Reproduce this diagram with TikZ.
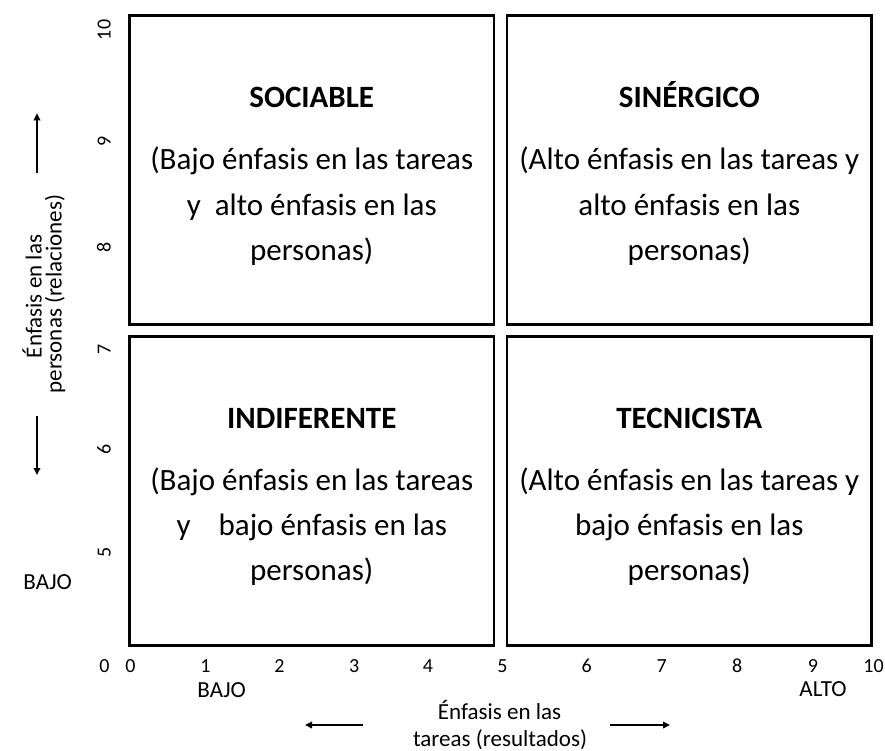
\documentclass[tikz,border=0pt]{standalone}
\usepackage{fontspec}
\setmainfont{Carlito}
\usetikzlibrary{arrows.meta}
\begin{document}
\begin{tikzpicture}[x=1pt,y=-1pt,
  quad/.style={draw, line width=2.7pt, inner sep=0pt, outer sep=0pt,
    minimum width=364.5pt, minimum height=309.2pt},
  ttl/.style={anchor=base, inner sep=0pt, font=\fontsize{31}{37}\selectfont\bfseries},
  txt/.style={anchor=base, inner sep=0pt, font=\fontsize{31}{37}\selectfont},
  lab/.style={anchor=base, inner sep=0pt, font=\fontsize{23}{28}\selectfont},
  num/.style={anchor=base, inner sep=0pt, font=\fontsize{20}{24}\selectfont},
  numr/.style={num, rotate=90},
  arr/.style={-{Triangle[length=7pt,width=6.5pt]}, line width=1.9pt}
]
\useasboundingbox (0,0) rectangle (885,751);

% quadrants
\node[quad] (tl) at (311.75,170.1) {};
\node[quad] (tr) at (689.3,170.1) {};
\node[quad] (bl) at (311.75,491.0) {};
\node[quad] (br) at (689.3,491.0) {};

% top-left
\node[ttl] (tlT) at (311.75,108) {SOCIABLE};
\node[txt] (tl1) at (311.75,170) {(Bajo énfasis en las tareas};
\node[txt] (tl2) at (311.75,215) {y~~alto énfasis en las};
\node[txt] (tl3) at (311.75,260) {personas)};

% top-right
\node[ttl] (trT) at (689.3,108) {SINÉRGICO};
\node[txt] (tr1) at (689.3,170) {(Alto énfasis en las tareas y};
\node[txt] (tr2) at (689.3,215) {alto énfasis en las};
\node[txt] (tr3) at (689.3,260) {personas)};

% bottom-left
\node[ttl] (blT) at (311.75,428.8) {INDIFERENTE};
\node[txt] (bl1) at (311.75,490.8) {(Bajo énfasis en las tareas};
\node[txt] (bl2) at (311.75,535.8) {y~~~~bajo énfasis en las};
\node[txt] (bl3) at (311.75,580.8) {personas)};

% bottom-right
\node[ttl] (brT) at (689.3,428.8) {TECNICISTA};
\node[txt] (br1) at (689.3,490.8) {(Alto énfasis en las tareas y};
\node[txt] (br2) at (689.3,535.8) {bajo énfasis en las};
\node[txt] (br3) at (689.3,580.8) {personas)};

% x-axis numbers
\node[num] (x00) at (104.5,672) {0};
\node[num] (x0) at (130.5,672) {0};
\node[num] (x1) at (205.5,672) {1};
\node[num] (x2) at (279.5,672) {2};
\node[num] (x3) at (354.3,672) {3};
\node[num] (x4) at (428,672) {4};
\node[num] (x5) at (502.5,672) {5};
\node[num] (x6) at (586.7,672) {6};
\node[num] (x7) at (661.7,672) {7};
\node[num] (x8) at (737.3,672) {8};
\node[num] (x9) at (813,672) {9};
\node[num] (x10) at (873.5,672) {10};

% y-axis numbers
\node[numr] (y10) at (110.7,30) {10};
\node[numr] (y9) at (110.7,141) {9};
\node[numr] (y8) at (110.7,247.5) {8};
\node[numr] (y7) at (110.7,349.7) {7};
\node[numr] (y6) at (110.7,449) {6};
\node[numr] (y5) at (110.7,552.5) {5};

% axis labels
\node[lab] (xbajo) at (221.7,697) {BAJO};
\node[lab] (xalto) at (823,696) {ALTO};
\node[lab] (xl1) at (499.5,719) {Énfasis en las};
\node[lab] (xl2) at (500,746) {tareas (resultados)};
\node[lab] (ybajo) at (47.7,589) {BAJO};
\node[lab, rotate=90] (yl1) at (41.7,296.5) {Énfasis en las};
\node[lab, rotate=90] (yl2) at (61.5,294) {personas (relaciones)};

% arrows
\coordinate (aL1) at (363,725);
\coordinate (aL2) at (305,725);
\coordinate (aR1) at (610,725);
\coordinate (aR2) at (670,725);
\coordinate (aU1) at (37,172.7);
\coordinate (aU2) at (37,113.3);
\coordinate (aD1) at (37,416);
\coordinate (aD2) at (37,475);
\draw[arr] (aL1) -- (aL2);
\draw[arr] (aR1) -- (aR2);
\draw[arr] (aU1) -- (aU2);
\draw[arr] (aD1) -- (aD2);
\end{tikzpicture}
\end{document}
